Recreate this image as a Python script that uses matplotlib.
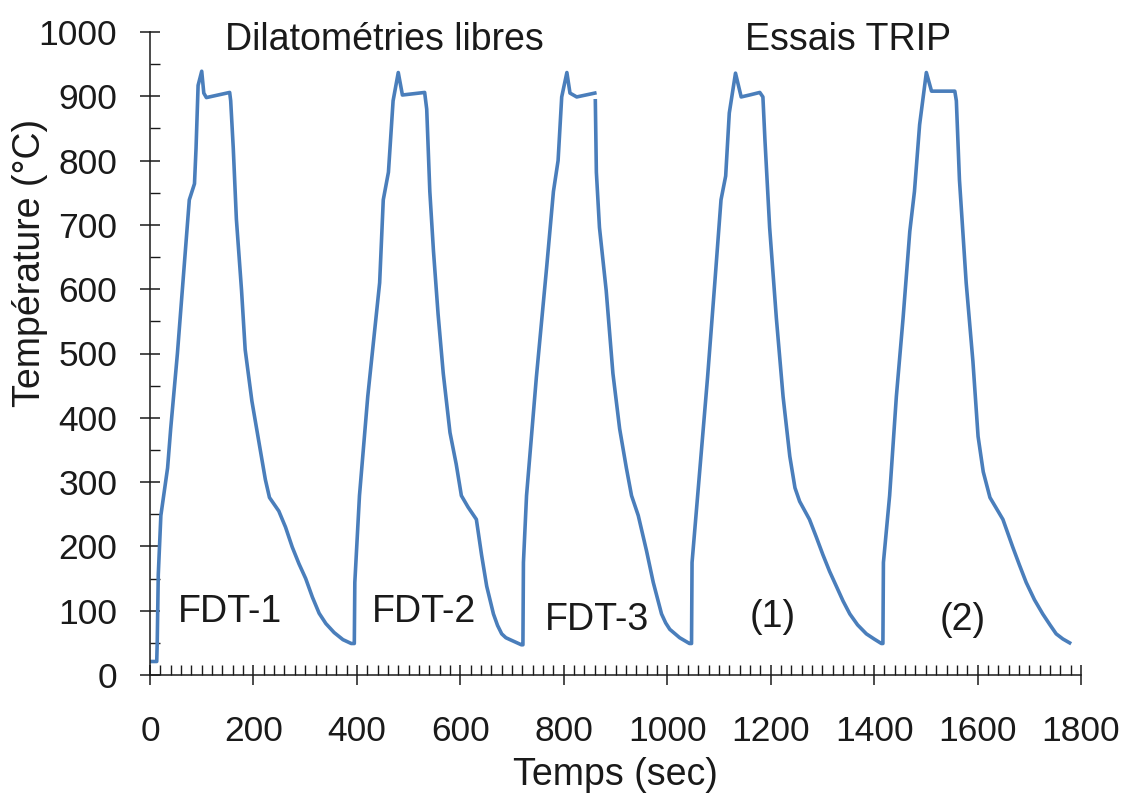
import numpy as np
import matplotlib
matplotlib.use('Agg')
import matplotlib.pyplot as plt
from matplotlib.ticker import MultipleLocator

plt.rcParams['font.family'] = ['Liberation Sans', 'DejaVu Sans']

# --- Données (temps en s, température en °C) ---
# Dilatométrie libre FDT-1
t_fdt1 = [0, 13, 14, 16, 21, 34, 40, 53, 66, 76, 86, 89, 93, 100, 104, 109, 154, 156,
          161, 167, 177, 184, 197, 210, 223, 231, 249, 262, 275, 288, 301, 314, 327,
          340, 356, 373, 389]
T_fdt1 = [21, 21, 52, 156, 248, 322, 383, 500, 635, 739, 764, 819, 917, 939, 905, 898, 906, 893,
          819, 709, 598, 506, 426, 365, 304, 276, 255, 230, 199, 173, 150, 121, 96,
          80, 66, 55, 49]

# Dilatométrie libre FDT-2
t_fdt2 = [395, 396, 405, 421, 444, 451, 461, 470, 480, 488, 531, 535, 541, 548, 557, 567,
          580, 592, 602, 615, 631, 641, 651, 664, 672, 680, 688, 696, 718]
T_fdt2 = [49, 144, 279, 433, 610, 739, 782, 893, 937, 902, 906, 880, 752, 660, 561, 469,
          377, 328, 279, 261, 242, 187, 138, 95, 77, 64, 58, 55, 47]

# Dilatométrie libre FDT-3 (petite coupure en fin de palier)
t_fdt3 = [721, 722, 728, 747, 767, 780, 789, 796, 806, 812, 825, 860, 860.5, 861, 863, 869,
          882, 895, 908, 921, 931, 944, 960, 973, 989, 997, 1005, 1024, 1043]
T_fdt3 = [47, 175, 279, 463, 635, 752, 800, 899, 937, 905, 899, 905, np.nan, 893, 782, 696,
          598, 469, 383, 322, 279, 248, 193, 144, 95, 81, 71, 58, 49]

# Essai TRIP (1)
t_trip1 = [1047, 1048, 1062, 1078, 1092, 1104, 1113, 1120, 1132, 1143, 1159, 1179, 1185,
           1189, 1198, 1211, 1224, 1237, 1247, 1256, 1275, 1288, 1301, 1314, 1327, 1340,
           1353, 1368, 1385, 1400, 1414]
T_trip1 = [49, 175, 310, 463, 610, 739, 776, 874, 936, 899, 902, 906, 899,
           831, 696, 555, 433, 340, 291, 270, 242, 215, 187, 161, 138, 115,
           95, 78, 64, 56, 49]

# Essai TRIP (2)
t_trip2 = [1417, 1418, 1430, 1443, 1456, 1469, 1478, 1488, 1501, 1511, 1556, 1559, 1565,
           1578, 1591, 1601, 1611, 1624, 1649, 1668, 1681, 1694, 1710, 1726, 1740, 1752,
           1765, 1778]
T_trip2 = [49, 175, 279, 433, 555, 690, 752, 856, 937, 908, 908, 893, 770,
           610, 488, 371, 316, 276, 242, 199, 171, 144, 117, 95, 78, 64, 56, 50]

temps = np.concatenate([t_fdt1, t_fdt2, t_fdt3, t_trip1, t_trip2])
temperature = np.concatenate([T_fdt1, T_fdt2, T_fdt3, T_trip1, T_trip2])

# Etiquettes
labels_essais = ['FDT-1', 'FDT-2', 'FDT-3', '(1)', '(2)']
labels_x = [155, 529, 864, 1204, 1571]
labels_y = [98, 98, 85, 90, 85]

TXT = '#1a1a1a'
FS = 25.5    # graduations
FS_TXT = 27  # textes et titres d'axes

fig = plt.figure(figsize=(11.28, 8.02), dpi=100)
ax = fig.add_axes([150 / 1128, 1 - 675 / 802, 931 / 1128, 643 / 802])

ax.plot(temps, temperature, color='#4a7ebb', lw=2.6, solid_joinstyle='round')

for lab, x, y in zip(labels_essais, labels_x, labels_y):
    ax.text(x, y, lab, ha='center', va='center', fontsize=FS_TXT, color=TXT)

ax.text(454, 987, 'Dilatométries libres', ha='center', va='center', fontsize=FS_TXT, color=TXT)
ax.text(1349, 987, 'Essais TRIP', ha='center', va='center', fontsize=FS_TXT, color=TXT)

ax.set_xlim(0, 1800)
ax.set_ylim(0, 1000)
ax.xaxis.set_major_locator(MultipleLocator(200))
ax.xaxis.set_minor_locator(MultipleLocator(20))
ax.yaxis.set_major_locator(MultipleLocator(100))
ax.yaxis.set_minor_locator(MultipleLocator(50))

for s in ['top', 'right']:
    ax.spines[s].set_visible(False)
for s in ['left', 'bottom']:
    ax.spines[s].set_linewidth(1.1)
    ax.spines[s].set_color(TXT)

ax.tick_params(which='major', direction='inout', length=15, width=1.1, color=TXT,
               labelsize=FS, labelcolor=TXT)
ax.tick_params(which='minor', direction='in', length=7, width=1.0, color=TXT)
ax.tick_params(axis='x', which='major', pad=21)
ax.tick_params(axis='y', which='major', pad=16)

ax.set_xlabel('Temps (sec)', fontsize=FS_TXT, color=TXT, va='center')
ax.xaxis.set_label_coords(0.5, -0.156)
ax.set_ylabel('Température (°C)', fontsize=FS_TXT, color=TXT, va='center')
ax.yaxis.set_label_coords(-0.129, 0.641)

fig.savefig('out.png', dpi=100, facecolor='white')
